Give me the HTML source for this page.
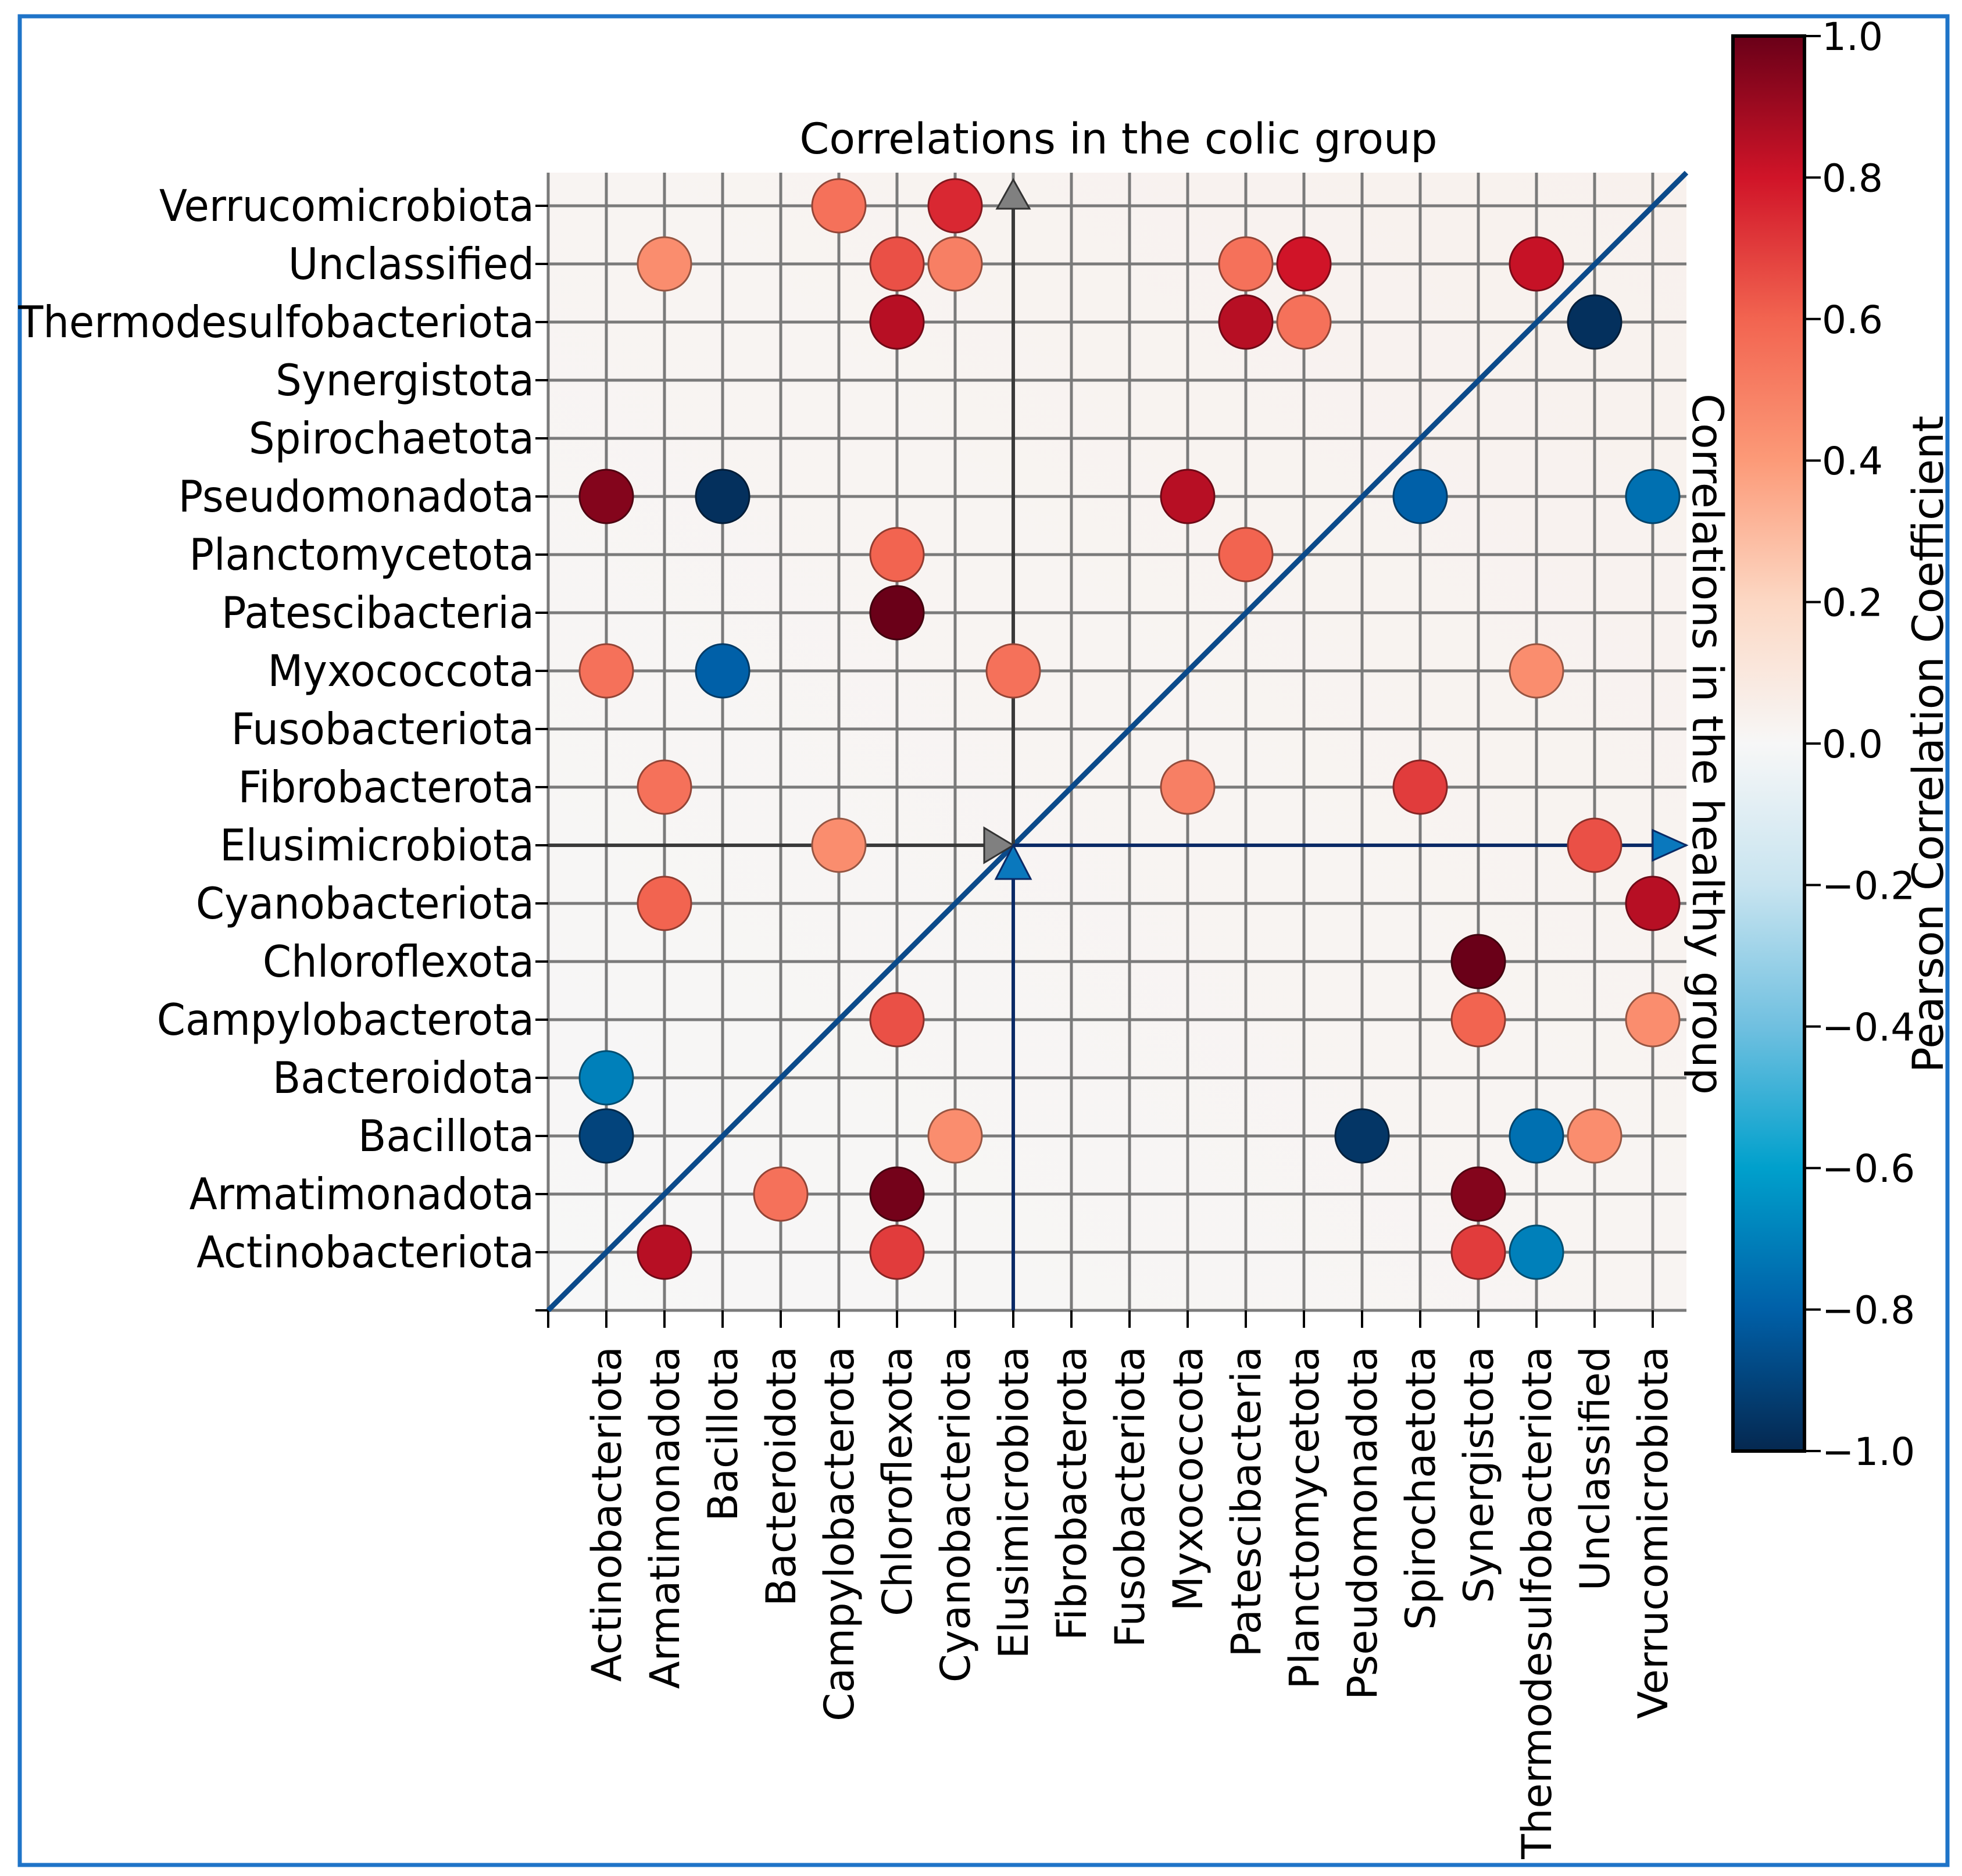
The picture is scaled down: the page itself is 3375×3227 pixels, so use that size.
<!DOCTYPE html>
<html><head><meta charset="utf-8"><style>
html,body{margin:0;padding:0;background:#fff}
svg{display:block}
text{font-family:"DejaVu Sans","Liberation Sans",sans-serif;fill:#000}
</style></head><body>
<svg id="chart" width="3375" height="3227" viewBox="0 0 3375 3227" xmlns="http://www.w3.org/2000/svg">
<rect x="34" y="28" width="3316" height="3180" fill="#fff" stroke="#1f74c8" stroke-width="7"/>
<defs>
<linearGradient id="cbgrad" x1="0" y1="1" x2="0" y2="0">
<stop offset="0" stop-color="#052850"/><stop offset="0.1" stop-color="#0060a8"/><stop offset="0.2" stop-color="#00a0cc"/><stop offset="0.3" stop-color="#70c0e0"/><stop offset="0.4" stop-color="#c8e4f0"/><stop offset="0.5" stop-color="#f7f7f7"/><stop offset="0.6" stop-color="#fcd8c4"/><stop offset="0.7" stop-color="#fc9a78"/><stop offset="0.8" stop-color="#f26450"/><stop offset="0.9" stop-color="#d01428"/><stop offset="1" stop-color="#6a0018"/>
</linearGradient>
<linearGradient id="bggrad" x1="0" y1="1" x2="1" y2="0">
<stop offset="0" stop-color="#f7f7f7"/><stop offset="1" stop-color="#f8f1ed"/>
</linearGradient>
</defs>
<g id="plot"></g>
</svg>
<script>
const categories=["Actinobacteriota","Armatimonadota","Bacillota","Bacteroidota","Campylobacterota","Chloroflexota","Cyanobacteriota","Elusimicrobiota","Fibrobacterota","Fusobacteriota","Myxococcota","Patescibacteria","Planctomycetota","Pseudomonadota","Spirochaetota","Synergistota","Thermodesulfobacteriota","Unclassified","Verrucomicrobiota"];
const pointCols=[4,6, 1,5,6,11,12,16, 5,11,12,17, 0,2,10,14,18, 5,11, 5, 0,2,7,16, 1,10,14, 4,17, 1,18, 15, 5,15,18, 0, 0,6,13,16,17, 3,5,15, 1,5,15,16];
const pointRows=[18,18, 17,17,17,17,17,17, 16,16,16,16, 13,13,13,13,13, 12,12, 11, 10,10,10,10, 8,8,8, 7,7, 6,6, 5, 4,4,4, 3, 2,2,2,2,2, 1,1,1, 0,0,0,0];
const pointValues=[0.55,0.75, 0.45,0.65,0.5,0.55,0.8,0.82, 0.85,0.85,0.55,-0.97, 0.95,-0.97,0.85,-0.8,-0.75, 0.6,0.6, 1.0, 0.55,-0.8,0.55,0.45, 0.55,0.5,0.7, 0.45,0.65, 0.6,0.85, 1.0, 0.65,0.6,0.45, -0.7, -0.9,0.45,-0.95,-0.75,0.45, 0.55,0.98,0.95, 0.85,0.7,0.7,-0.7];
const cbTicks=[1.0,0.8,0.6,0.4,0.2,0.0,-0.2,-0.4,-0.6,-0.8,-1.0];
const cbTickLabels=["1.0","0.8","0.6","0.4","0.2","0.0","\u22120.2","\u22120.4","\u22120.6","\u22120.8","\u22121.0"];

const NS="http://www.w3.org/2000/svg";
const g=document.getElementById('plot');
const X0=943,Y0=2254,STEP=100,XMAX=2901,YMIN=297;
const sx=i=>X0+(i+1)*STEP;
const sy=i=>Y0-(i+1)*STEP;
const CB={x:2981,w:123,top:62,bot:2496};
const cbY=v=>CB.bot-(v+1)/2*(CB.bot-CB.top);
const stops=[[-1,[5,40,80]],[-0.8,[0,96,168]],[-0.6,[0,160,204]],[-0.4,[112,192,224]],[-0.2,[200,228,240]],[0,[247,247,247]],[0.2,[252,216,196]],[0.4,[252,154,120]],[0.6,[242,100,80]],[0.8,[208,20,40]],[1,[106,0,24]]];
function cmap(v){v=Math.max(-1,Math.min(1,v));for(let i=0;i<stops.length-1;i++){const a=stops[i],b=stops[i+1];if(v<=b[0]){const t=(v-a[0])/(b[0]-a[0]);const c=a[1].map((x,k)=>Math.round(x+(b[1][k]-x)*t));return 'rgb('+c.join(',')+')';}}return 'rgb(106,0,24)';}
function dark(v){const m=cmap(v).match(/\d+/g).map(n=>Math.round(n*0.6));return 'rgb('+m.join(',')+')';}
function mk(tag,attrs,parent){const e=document.createElementNS(NS,tag);for(const k in attrs)e.setAttribute(k,attrs[k]);(parent||g).appendChild(e);return e;}

let e;
e=mk('rect',{x:X0,y:YMIN,width:XMAX-X0,height:Y0-YMIN,fill:'url(#bggrad)'});


for(let i=-1;i<19;i++){
  e=mk('line',{x1:sx(i),x2:sx(i),y1:YMIN,y2:Y0,stroke:'#7a7a7a','stroke-width':5});
  
  
  e=mk('line',{x1:X0,x2:XMAX,y1:sy(i),y2:sy(i),stroke:'#7a7a7a','stroke-width':5});
  
  
}
for(let i=-1;i<19;i++){
  e=mk('line',{x1:sx(i),x2:sx(i),y1:Y0,y2:Y0+30,stroke:'#000','stroke-width':4});
  
  
  e=mk('line',{x1:X0-22,x2:X0,y1:sy(i),y2:sy(i),stroke:'#000','stroke-width':4});
  
  
}
categories.forEach((c,i)=>{
  e=mk('text',{x:0,y:26,'text-anchor':'end','font-size':75,transform:`translate(${X0-24},${sy(i)}) scale(0.94,1)`});
  e.textContent=c;
  
  
  e=mk('text',{x:0,y:0,'text-anchor':'end','font-size':70,transform:`translate(${sx(i)+25},${Y0+62}) rotate(-90)`});
  e.textContent=c;
  
  
});
e=mk('line',{x1:X0,y1:Y0,x2:XMAX,y2:YMIN,stroke:'#0b4a8a','stroke-width':9});


const cx=sx(7),cy=sy(7);
e=mk('line',{x1:X0,y1:cy,x2:cx-40,y2:cy,stroke:'#3a3a3a','stroke-width':6});


e=mk('polygon',{points:`${cx},${cy} ${cx-50},${cy-30} ${cx-50},${cy+30}`,fill:'#808080',stroke:'#333','stroke-width':3});


e=mk('line',{x1:cx,y1:cy,x2:cx,y2:YMIN+60,stroke:'#3a3a3a','stroke-width':6});


e=mk('polygon',{points:`${cx},${YMIN+12} ${cx-28},${YMIN+62} ${cx+28},${YMIN+62}`,fill:'#808080',stroke:'#333','stroke-width':3});


e=mk('line',{x1:cx,y1:cy,x2:XMAX-50,y2:cy,stroke:'#0a2a66','stroke-width':6});


e=mk('polygon',{points:`${XMAX},${cy} ${XMAX-58},${cy-26} ${XMAX-58},${cy+26}`,fill:'#0a78bd',stroke:'#0a2a66','stroke-width':3});


e=mk('line',{x1:cx,y1:Y0,x2:cx,y2:cy+50,stroke:'#0a2a66','stroke-width':6});


e=mk('polygon',{points:`${cx},${cy} ${cx-30},${cy+58} ${cx+30},${cy+58}`,fill:'#0a78bd',stroke:'#0a2a66','stroke-width':3});


pointValues.forEach((v,k)=>{
  e=mk('circle',{cx:sx(pointCols[k]),cy:sy(pointRows[k]),r:46,fill:cmap(v),stroke:dark(v),'stroke-width':3});
  
  
});
e=mk('text',{x:1924,y:264,'text-anchor':'middle','font-size':73});
e.textContent='Correlations in the colic group';


e=mk('text',{x:0,y:0,'text-anchor':'middle','font-size':73,transform:`translate(2912,1280) rotate(90)`});
e.textContent='Correlations in the healthy group';


e=mk('rect',{x:CB.x,y:CB.top,width:CB.w,height:CB.bot-CB.top,fill:'url(#cbgrad)',stroke:'#000','stroke-width':6});


cbTicks.forEach((t,i)=>{
  e=mk('line',{x1:CB.x+CB.w,x2:CB.x+CB.w+28,y1:cbY(t),y2:cbY(t),stroke:'#000','stroke-width':4});
  
  
  e=mk('text',{x:CB.x+CB.w+30,y:cbY(t)+24,'font-size':66});
  e.textContent=cbTickLabels[i];
  
  
});
e=mk('text',{x:0,y:0,'text-anchor':'middle','font-size':73,transform:`translate(3342,1280) rotate(-90)`});
e.textContent='Pearson Correlation Coefficient';


</script>
</body></html>
